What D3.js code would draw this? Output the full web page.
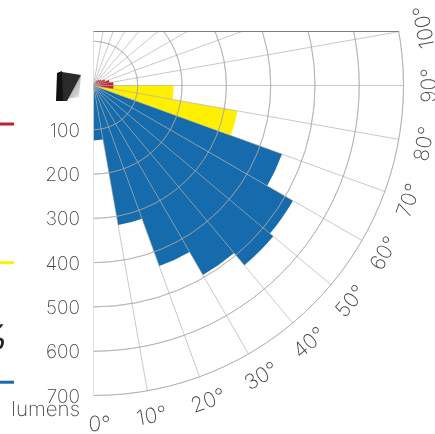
<!DOCTYPE html>
<html><head><meta charset="utf-8">
<style>html,body{margin:0;padding:0;background:#fff}svg{display:block}
text{font-family:"Inter","Lato",sans-serif;font-weight:150;fill:#444;text-rendering:geometricPrecision}
.t{opacity:.99}</style>
<script src="https://cdn.jsdelivr.net/npm/d3@7/dist/d3.min.js"></script></head><body>
<svg id="c" width="435" height="434"></svg>
<script>
const radialTicks=[100,200,300,400,500,600,700];
const angleTicks=[0,10,20,30,40,50,60,70,80,90,100];
const gridAngles=[0,10,20,30,40,50,60,70,80,90,100,110,120,130,140,150,160,170,180];
const blueStart=[0,10,20,30,40,50,60];
const blueValues=[124,320,434,494,530,520,453];
const yellowStart=[70,80];
const yellowValues=[330,181];
const redStart=[80,90,100,110,120,130,140];
const redValues=[45,45,37,28,21,17,14];
const unitLabel="lumens";
const legendColors=["#bd1f2d","#fff000","#156bab"];
const legendValues=[87,400,670];

const cx=93.5,cy=85.5;
const svg=d3.select("#c");
const defs=svg.append("defs");
defs.append("clipPath").attr("id","pc").append("rect").attr("x",cx).attr("y",31).attr("width",340).attr("height",400);
const lg=defs.append("linearGradient").attr("id","back").attr("x1",0).attr("y1",0).attr("x2",1).attr("y2",1);
lg.append("stop").attr("offset",0).attr("stop-color","#777");
lg.append("stop").attr("offset",1).attr("stop-color","#eee");

const r=d3.scaleLinear().domain([0,700]).range([0,310]);
const a=d3.scaleLinear().domain([0,180]).range([Math.PI,0]);
const arc=d3.arc();
const g=svg.append("g").attr("class","t").attr("transform",`translate(${cx},${cy})`);
const plot=svg.append("g").attr("clip-path","url(#pc)").append("g").attr("transform",`translate(${cx},${cy})`);
const sectors=(starts,vals,col)=>plot.append("g").selectAll("path").data(starts).join("path")
  .attr("d",(d,i)=>arc({innerRadius:0,outerRadius:r(vals[i]),startAngle:a(d+10),endAngle:a(d)}))
  .attr("fill",col);
sectors(blueStart,blueValues,"#156bab");
sectors(yellowStart,yellowValues,"#fff000");
sectors(redStart,redValues,"#c8202f");
const gridCol="rgba(165,165,165,0.6)";
plot.append("g").selectAll("path").data(radialTicks).join("path")
  .attr("d",d=>arc({innerRadius:r(d),outerRadius:r(d),startAngle:a(180),endAngle:a(0)}))
  .attr("fill","none").attr("stroke",gridCol).attr("stroke-width",1);
plot.append("g").selectAll("line").data(gridAngles).join("line")
  .attr("x2",d=>r(700)*Math.sin(a(d))).attr("y2",d=>-r(700)*Math.cos(a(d)))
  .attr("stroke",gridCol).attr("stroke-width",1);
svg.append("line").attr("x1",cx).attr("x2",cx+r(700)*Math.sin(a(100))).attr("y1",31.5).attr("y2",31.5).attr("stroke","#808080");

// radial labels
g.append("g").selectAll("text").data(radialTicks).join("text")
  .attr("x",80-cx).attr("y",d=>r(d)+7).attr("text-anchor","end").attr("font-size",19).text(d=>d);
g.append("text").attr("x",80-cx).attr("y",416-cy).attr("text-anchor","end").attr("font-size",20.5).text(unitLabel);
// angle labels
g.append("g").selectAll("text").data(angleTicks).join("text")
  .attr("text-anchor","middle").attr("dominant-baseline","central").attr("font-size",21)
  .attr("transform",d=>{const R=336,t=a(d);return `translate(${R*Math.sin(t)+(d===0?6:0)},${-R*Math.cos(t)+(d===0?3:0)}) rotate(${-d})`;})
  .text(d=>d+"°");
// legend stubs
svg.append("g").selectAll("line").data(legendValues).join("line")
  .attr("x1",0).attr("x2",14).attr("y1",d=>cy+r(d)).attr("y2",d=>cy+r(d))
  .attr("stroke",(d,i)=>legendColors[i]).attr("stroke-width",3);
svg.append("text").attr("class","t").attr("x",8).attr("y",349).attr("text-anchor","end").attr("font-size",34).style("font-weight",500).style("font-style","italic").style("fill","#222").text("%");
// luminaire picture
const lum=svg.append("g");
lum.append("path").attr("d","M81,75L79,97L66,99Z").attr("fill","url(#back)");
lum.append("path").attr("d","M62,72L81,75L67,101L62,101Z").attr("fill","#2a2a2a");
lum.append("path").attr("d","M57,73L62,71L63,101L56,101Z").attr("fill","#111");
</script></body></html>
